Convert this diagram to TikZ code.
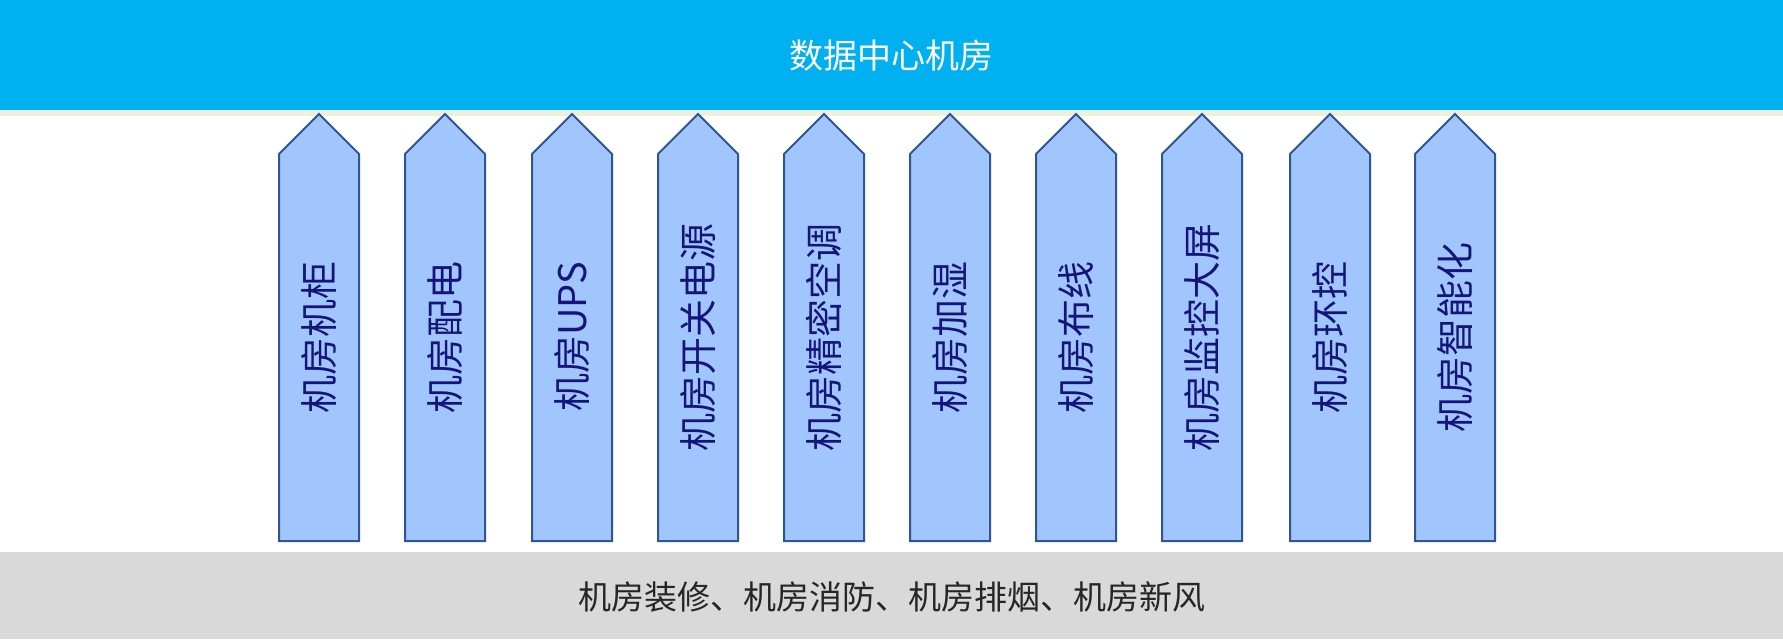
\documentclass[tikz,border=0pt]{standalone}
\usepackage{fontspec}
\setmainfont{Noto Sans CJK SC}

\definecolor{topblue}{HTML}{00B0F0}
\definecolor{stripgreen}{HTML}{EBF1DE}
\definecolor{pillarfill}{HTML}{A1C6FD}
\definecolor{pillarline}{HTML}{2F5597}
\definecolor{pillartext}{HTML}{14147A}
\definecolor{basegray}{HTML}{D9D9D9}
\definecolor{basetext}{HTML}{262626}

\tikzset{
    pillar/.style={draw=pillarline, fill=pillarfill, line width=1pt, line join=miter},
    pillarlabel/.style={rotate=90, text=pillartext, font=\fontsize{19pt}{22pt}\selectfont, inner sep=0pt}
}

\begin{document}
\begin{tikzpicture}[x=0.5pt, y=-0.5pt]
    \useasboundingbox (0, 0) rectangle (1783, 639);

    \begin{scope}
        \fill[topblue] (0, 0) rectangle (1783, 110);
        \fill[stripgreen] (0, 110) rectangle (1783, 116);
        \fill[basegray] (0, 552) rectangle (1783, 639);
        \node[text=white, font=\fontsize{17pt}{20pt}\selectfont] (Top) at (891, 56) {数据中心机房};
        \node[text=basetext, font=\fontsize{16.5pt}{20pt}\selectfont] (Base) at (892, 597) {机房装修、机房消防、机房排烟、机房新风};
    \end{scope}

    \begin{scope}
        \draw[pillar] (279, 541) -- (279, 154) -- (319, 114) -- (359, 154) -- (359, 541) -- cycle;
        \draw[pillar] (405, 541) -- (405, 154) -- (445, 114) -- (485, 154) -- (485, 541) -- cycle;
        \draw[pillar] (532, 541) -- (532, 154) -- (572, 114) -- (612, 154) -- (612, 541) -- cycle;
        \draw[pillar] (658, 541) -- (658, 154) -- (698, 114) -- (738, 154) -- (738, 541) -- cycle;
        \draw[pillar] (784, 541) -- (784, 154) -- (824, 114) -- (864, 154) -- (864, 541) -- cycle;
        \draw[pillar] (910, 541) -- (910, 154) -- (950, 114) -- (990, 154) -- (990, 541) -- cycle;
        \draw[pillar] (1036, 541) -- (1036, 154) -- (1076, 114) -- (1116, 154) -- (1116, 541) -- cycle;
        \draw[pillar] (1162, 541) -- (1162, 154) -- (1202, 114) -- (1242, 154) -- (1242, 541) -- cycle;
        \draw[pillar] (1290, 541) -- (1290, 154) -- (1330, 114) -- (1370, 154) -- (1370, 541) -- cycle;
        \draw[pillar] (1415, 541) -- (1415, 154) -- (1455, 114) -- (1495, 154) -- (1495, 541) -- cycle;
    \end{scope}

    \begin{scope}[every node/.style={pillarlabel}]
        \node (P_1) at (319, 337) {机房机柜};
        \node (P_2) at (445, 337) {机房配电};
        \node (P_3) at (572, 337) {机房UPS};
        \node (P_4) at (698, 337) {机房开关电源};
        \node (P_5) at (824, 337) {机房精密空调};
        \node (P_6) at (950, 337) {机房加湿};
        \node (P_7) at (1076, 337) {机房布线};
        \node (P_8) at (1202, 337) {机房监控大屏};
        \node (P_9) at (1330, 337) {机房环控};
        \node (P_10) at (1455, 337) {机房智能化};
    \end{scope}
\end{tikzpicture}
\end{document}
